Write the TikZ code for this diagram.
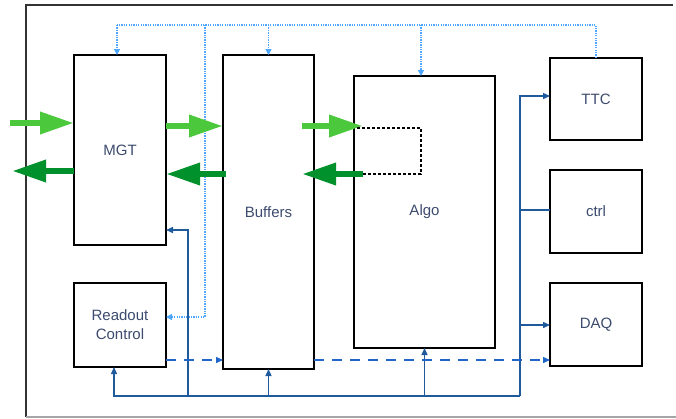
\documentclass[tikz,border=0pt]{standalone}
\usepackage{fontspec}
\setmainfont{Liberation Sans}
\usetikzlibrary{arrows.meta,calc}
\definecolor{lgreen}{HTML}{4CC83C}
\definecolor{dgreen}{HTML}{00902C}
\definecolor{sblue}{HTML}{1F5A9C}
\definecolor{dblue}{HTML}{1F66C8}
\definecolor{tblue}{HTML}{4DA6FF}
\definecolor{txt}{HTML}{3C4B6E}
\begin{document}
\begin{tikzpicture}[x=1pt,y=-1pt,
  blk/.style={draw=black,line width=2pt,inner sep=0pt,outer sep=0pt,text=txt,
    font=\fontsize{15pt}{19pt}\selectfont,align=center},
  lg/.style={draw=lgreen,line width=6.5pt,-{Triangle[length=34pt,width=21pt]}},
  dg/.style={draw=dgreen,line width=6.5pt,-{Triangle[length=34pt,width=21pt]}},
  bus/.style={draw=sblue,line width=1.4pt},
  busarr/.style={bus,-{Triangle[length=7pt,width=6pt]}},
  dasharr/.style={draw=dblue,line width=1.4pt,dash pattern=on 10pt off 8pt,-{Triangle[length=7pt,width=6pt]}},
  dotl/.style={draw=tblue,line width=1.2pt,dash pattern=on 1.3pt off 1.1pt},
  dotarr/.style={dotl,-{Triangle[length=6pt,width=6pt]}},
  loopl/.style={draw=black,line width=1.3pt,dash pattern=on 3pt off 2pt}]
\useasboundingbox (0,0) rectangle (676,418);
% frame
\draw[black!80,line width=1.2pt] (673,5) -- (26,5) -- (26,417);
\draw[black!35,line width=1.2pt] (26,417) -- (676,417);
% blocks
\node[blk,minimum width=92pt,minimum height=190pt] (mgt) at (120,150) {MGT};
\node[blk,minimum width=91pt,minimum height=314pt] (buf) at (268.5,212) {Buffers};
\node[blk,minimum width=141pt,minimum height=272pt] (algo) at (424.5,212) {Algo};
\node[blk,minimum width=92pt,minimum height=82pt] (ttc) at (596,99) {TTC};
\node[blk,minimum width=92pt,minimum height=83pt] (ctrl) at (596,211.5) {ctrl};
\node[blk,minimum width=92pt,minimum height=83pt] (daq) at (596,324.5) {DAQ};
\node[blk,minimum width=92pt,minimum height=84pt] (ro) at (120,325) {Readout\\Control};
% dotted control lines
\coordinate (t1) at (117,25);
\coordinate (t2) at (205,25);
\coordinate (t3) at (421,25);
\coordinate (t4) at (205,317);
\draw[dotl] (ttc.north) -- (ttc.north |- t1) -- (t1);
\draw[dotarr] (t1) -- (t1 |- mgt.north);
\draw[dotarr] (buf.north |- t1) -- (buf.north);
\draw[dotarr] (t3) -- (t3 |- algo.north);
\draw[dotarr] (t2) -- (t4) -- (ro.east |- t4);
% green data arrows
\coordinate (g1) at (10,123);
\coordinate (g2) at (166,126);
\coordinate (g3) at (302,126);
\coordinate (g4) at (363,126);
\coordinate (h1) at (12,171);
\coordinate (h2) at (226,174);
\coordinate (h3) at (363,174);
\coordinate (h4) at (302,174);
\draw[lg] (g1) -- (mgt.west |- g1);
\draw[lg] (mgt.east |- g2) -- (buf.west |- g2);
\draw[lg] (g3) -- (g4);
\draw[dg] (mgt.west |- h1) -- (h1);
\draw[dg] (h2) -- (mgt.east |- h2);
\draw[dg] (h3) -- (h4);
% dotted loop in algo
\draw[loopl] (357,128) -- (421,128) -- (421,174) -- (h3);
% bus
\coordinate (b0) at (114,396);
\coordinate (b1) at (520,396);
\coordinate (b2) at (188,396);
\coordinate (b3) at (188,230);
\coordinate (v1) at (520,96);
\coordinate (v2) at (520,210);
\coordinate (v3) at (520,325);
\draw[busarr] (b1) -- (b0) -- (b0 |- ro.south);
\draw[busarr] (b1) -- (v1) -- (ttc.west |- v1);
\draw[bus] (v2) -- (ctrl.west |- v2);
\draw[busarr] (v3) -- (daq.west |- v3);
\draw[busarr] (buf.south |- b0) -- (buf.south);
\draw[busarr] (algo.south |- b0) -- (algo.south);
\draw[busarr] (b2) -- (b3) -- (mgt.east |- b3);
% dashed readout path
\coordinate (d0) at (166,360);
\draw[dasharr] (ro.east |- d0) -- (buf.west |- d0);
\draw[dasharr] (buf.east |- d0) -- (daq.west |- d0);
\end{tikzpicture}
\end{document}
